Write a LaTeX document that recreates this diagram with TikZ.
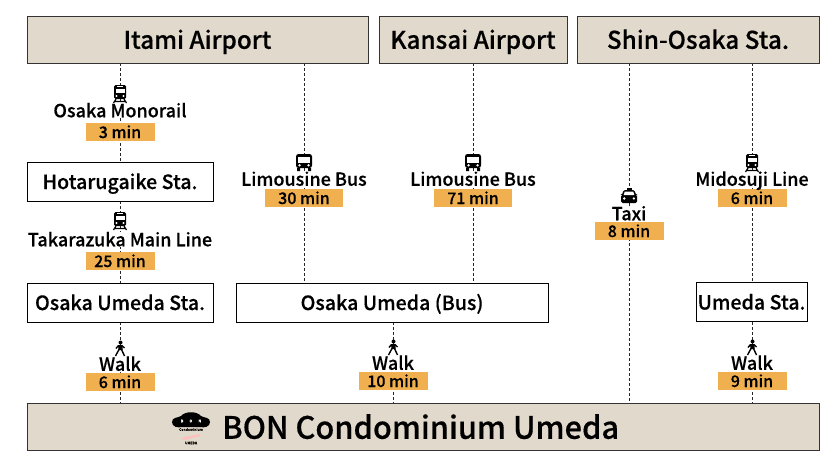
\documentclass[tikz,border=0pt]{standalone}
\usepackage{fontspec}
\setmainfont[FakeBold=0.4]{Noto Sans CJK JP Medium}
\usetikzlibrary{positioning,backgrounds}
\definecolor{headfill}{HTML}{E1D9CB}
\definecolor{barfill}{HTML}{F0B050}
\tikzset{
  pics/trainicon/.style={code={
    \fill[white] (-6,8) rectangle (6,10);
    \fill[rounded corners=1.5pt] (-6,-8) rectangle (6,6);
    \fill[white] (-4.5,-4.5) rectangle (4.5,0);
    \fill[white] (-3,-7) rectangle (3,-6);
    \fill[white] (-3.5,3) circle (1.1) (3.5,3) circle (1.1);
    \draw[line width=1.2pt] (-4,6) -- (-6.5,10) (4,6) -- (6.5,10) (-5,8.5) -- (5,8.5);
  }},
  pics/busicon/.style={code={
    \fill[rounded corners=2.5pt] (-8,-8) rectangle (8,6);
    \fill (-7,6) rectangle (-4,9) (4,6) rectangle (7,9);
    \fill[white] (-6,-5.5) rectangle (6,0.5);
    \fill[white] (-4.5,3.3) circle (1.3) (4.5,3.3) circle (1.3);
  }},
  pics/taxiicon/.style={code={
    \fill (-2.5,-8) rectangle (2.5,-5);
    \fill[rounded corners=1.5pt] (-5.5,-6) -- (5.5,-6) -- (7,-1) -- (8,-1) -- (8,7) -- (-8,7) -- (-8,-1) -- (-7,-1) -- cycle;
    \fill[white] (-4.2,-4.5) -- (4.2,-4.5) -- (5.3,-1) -- (-5.3,-1) -- cycle;
    \fill[white] (-4.8,2.5) circle (1.3) (4.8,2.5) circle (1.3);
  }},
  pics/walkicon/.style={code={
    \fill[white] (-5,0) rectangle (5,8);
    \fill (0.5,-6.5) circle (2);
    \fill (-2,-4) -- (2.5,-4) -- (2.5,1) -- (-1.5,1) -- cycle;
    \draw[line width=1.4pt] (-1.5,-3.5) -- (-4,-0.5) (2,-3.5) -- (4.5,-1) (-1,0.5) -- (-4.5,7) (1.5,0.5) -- (4.5,7);
  }}
}
\begin{document}
\begin{tikzpicture}[x=1pt,y=-1pt,
    headbox/.style={draw=black!80,line width=.8pt,fill=headfill,minimum height=47pt,font=\fontsize{24.3}{25}\selectfont,inner sep=0pt,text height=18.5pt,text depth=0pt},
    stabox/.style={draw=black,line width=.8pt,fill=white,minimum height=39pt,font=\fontsize{19.6}{20}\selectfont,inner sep=0pt,text height=15pt,text depth=0pt},
    timebar/.style={fill=barfill,minimum height=18pt,minimum width=69pt,inner sep=0pt,font=\fontsize{16}{16}\selectfont,text height=12pt,text depth=0pt},
    modetext/.style={fill=white,inner sep=1pt,font=\fontsize{18}{18}\selectfont,text height=13.5pt,text depth=0pt},
    route/.style={densely dashed,line width=.8pt,black!85}]
  \useasboundingbox (0,0) rectangle (840,460);
  % top row
  \node[headbox,minimum width=341pt] (itami) at (197.5,39.5) {Itami Airport};
  \node[headbox,minimum width=188pt] (kansai) at (473,39.5) {Kansai Airport};
  \node[headbox,minimum width=242pt] (shin) at (698,39.5) {Shin-Osaka Sta.};
  % stations
  \node[stabox,minimum width=186pt] (hotaru) at (120,181.5) {Hotarugaike Sta.};
  \node[stabox,minimum width=186pt] (umedasta) at (120,302.5) {Osaka Umeda Sta.};
  \node[stabox,minimum width=312pt] (umedabus) at (392,302.5) {Osaka Umeda (Bus)};
  \node[stabox,minimum width=111pt] (umedamid) at (751.5,302) {Umeda Sta.};
  \node[headbox,minimum width=792pt] (bon) at (423,426.5) {};
  % time bars
  \node[timebar] (t3) at (120,132) {3 min};
  \node[timebar] (t25) at (120,261) {25 min};
  \node[timebar] (t6) at (120,382) {6 min};
  \node[timebar,minimum width=78pt] (t30) at (304,198) {30 min};
  \node[timebar,minimum width=78pt] (t71) at (473,198) {71 min};
  \node[timebar] (t10) at (393,381) {10 min};
  \node[timebar] (t8) at (629,231) {8 min};
  \node[timebar] (t6b) at (752,198) {6 min};
  \node[timebar] (t9) at (752,381) {9 min};
  % routes
  \begin{scope}[on background layer]
    \draw[route] (itami.south -| t3) -- (hotaru.north -| t3);
    \draw[route] (hotaru.south -| t25) -- (umedasta.north -| t25);
    \draw[route] (umedasta.south -| t6) -- (bon.north -| t6);
    \draw[route] (itami.south -| t30) -- (umedabus.north -| t30);
    \draw[route] (kansai.south -| t71) -- (umedabus.north -| t71);
    \draw[route] (umedabus.south -| t10) -- (bon.north -| t10);
    \draw[route] (shin.south -| t8) -- (bon.north -| t8);
    \draw[route] (shin.south -| t6b) -- (umedamid.north -| t6b);
    \draw[route] (umedamid.south -| t9) -- (bon.north -| t9);
  \end{scope}
  % mode labels
  \node[modetext] (mono) at (120,110.5) {Osaka Monorail};
  \node[modetext] (taka) at (120,239.5) {Takarazuka Main Line};
  \node[modetext] (bus1) at (304,179) {Limousine Bus};
  \node[modetext] (bus2) at (473,179) {Limousine Bus};
  \node[modetext] (taxi) at (629,213.5) {Taxi};
  \node[modetext] (mido) at (752,179) {Midosuji Line};
  \node[modetext] (walk1) at (120,364) {Walk};
  \node[modetext] (walk2) at (393,363) {Walk};
  \node[modetext] (walk3) at (752,363) {Walk};
  % icons
  \foreach \px/\py/\ic in {120/93/trainicon,120/220/trainicon,752/162/trainicon,304/162/busicon,473/162/busicon,629/196/taxiicon,120/349/walkicon,393/348/walkicon,752/348/walkicon}
    \pic at (\px,\py) {\ic};
  % destination
  \node[font=\fontsize{30.8}{31}\selectfont,anchor=west,inner sep=0pt,text height=22.5pt,text depth=0pt] (bonname) at (222,427.5) {BON Condominium Umeda};
  \fill (172,422) .. controls (172,417) and (178,418) .. (181,416) .. controls (185,411) and (197,411) .. (201,416) .. controls (204,418) and (210,417) .. (210,422) .. controls (210,427) and (204,428) .. (200,427) -- (182,427) .. controls (178,428) and (172,427) .. cycle;
  \node[white,font=\fontsize{4}{4}\selectfont,inner sep=0pt] (bonlogo) at (191,421) {B\hspace{6pt}O\hspace{6pt}N};
  \node[font=\fontsize{3.5}{4}\selectfont,inner sep=0pt] (condo) at (191,429.5) {Condominium};
  \fill[red!25] (181,438) -- (199,434) -- (201,436) -- (184,440) -- cycle;
  \node[font=\fontsize{3.5}{4}\selectfont,inner sep=0pt] (umedalogo) at (191,443) {UMEDA};
\end{tikzpicture}
\end{document}
